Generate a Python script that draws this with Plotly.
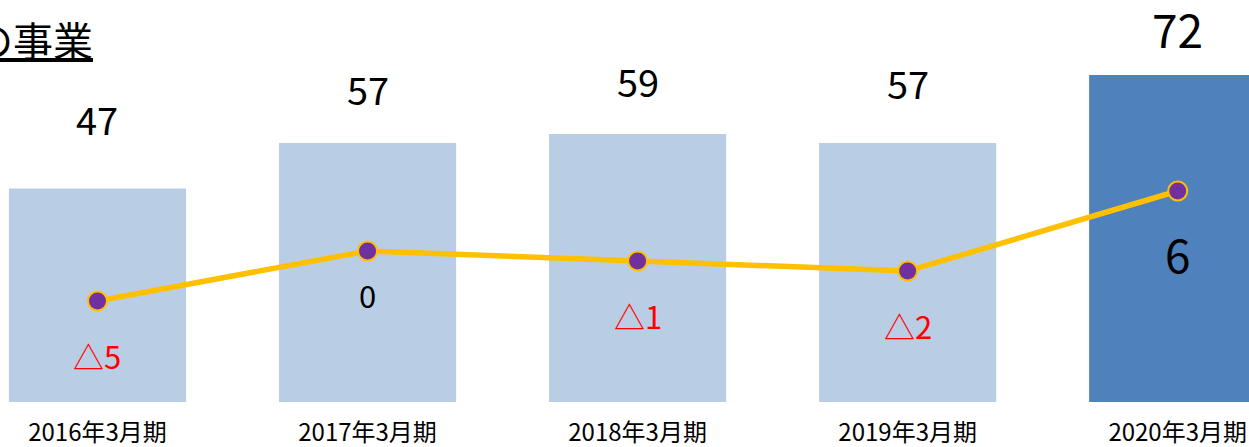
import plotly.graph_objects as go

# Fiscal periods, sales (bars) and operating profit (line)
periods = ["2016年3月期", "2017年3月期", "2018年3月期", "2019年3月期", "2020年3月期"]
sales = [47, 57, 59, 57, 72]
profit = [-5, 0, -1, -2, 6]
title_text = "の事業"

# label placement (pixels above a bar top / below a line point)
sales_label_lift = [70, 55, 54, 61, 47]
profit_label_drop = [54, 43, 54, 54, 62]

FONT = "Noto Sans CJK JP"
LIGHT = "#B9CDE5"
DARK = "#4F81BD"
LINE = "#FFC000"
DOT = "#7030A0"

bar_colors = [LIGHT] * (len(periods) - 1) + [DARK]


def profit_label(v):
    # negative figures are written with a triangle, Japanese style
    return f"△{abs(v)}" if v < 0 else str(v)


fig = go.Figure()
fig.add_trace(go.Bar(
    x=list(range(len(periods))), y=sales,
    marker=dict(color=bar_colors, line=dict(width=0)),
    hoverinfo="skip", showlegend=False,
))
fig.add_trace(go.Scatter(
    x=list(range(len(periods))), y=profit, yaxis="y2",
    mode="lines+markers",
    line=dict(color=LINE, width=5.5),
    marker=dict(size=19, color=DOT, line=dict(color=LINE, width=2)),
    hoverinfo="skip", showlegend=False,
))

annotations = []
last = len(periods) - 1
for i, v in enumerate(sales):
    annotations.append(dict(
        x=i, y=v, xref="x", yref="y", text=str(v), showarrow=False,
        yanchor="middle", yshift=sales_label_lift[i],
        height=48 if i == last else None,
        font=dict(family=FONT, size=38 if i < last else 46, color="black"),
    ))
for i, v in enumerate(profit):
    annotations.append(dict(
        x=i, y=v, xref="x", yref="y2", text=profit_label(v), showarrow=False,
        yanchor="middle", yshift=-profit_label_drop[i],
        font=dict(family=FONT, size=31 if i < last else 46,
                  color="#FF0000" if v < 0 else "black"),
    ))
annotations.append(dict(
    x=-0.023, y=1.0, xref="paper", yref="paper", xanchor="left", yanchor="top",
    yshift=-8, text=f"<u>{title_text}</u>", showarrow=False,
    font=dict(family=FONT, size=40, color="black"),
))

fig.update_layout(
    width=1249, height=447,
    margin=dict(l=0, r=0, t=0, b=45, autoexpand=False),
    paper_bgcolor="white", plot_bgcolor="white",
    bargap=0.344,
    xaxis=dict(
        range=[-0.361, 4.264], automargin=False,
        tickmode="array", tickvals=list(range(len(periods))), ticktext=periods,
        ticks="outside", ticklen=9, tickcolor="rgba(0,0,0,0)",
        tickfont=dict(family=FONT, size=24, color="black"),
        showgrid=False, zeroline=False, showline=False,
    ),
    yaxis=dict(range=[0, 88.5], visible=False, showgrid=False, automargin=False),
    yaxis2=dict(range=[-15.1, 25.1], overlaying="y", visible=False,
                showgrid=False, automargin=False),
    annotations=annotations,
)

fig.write_html("out.html")
